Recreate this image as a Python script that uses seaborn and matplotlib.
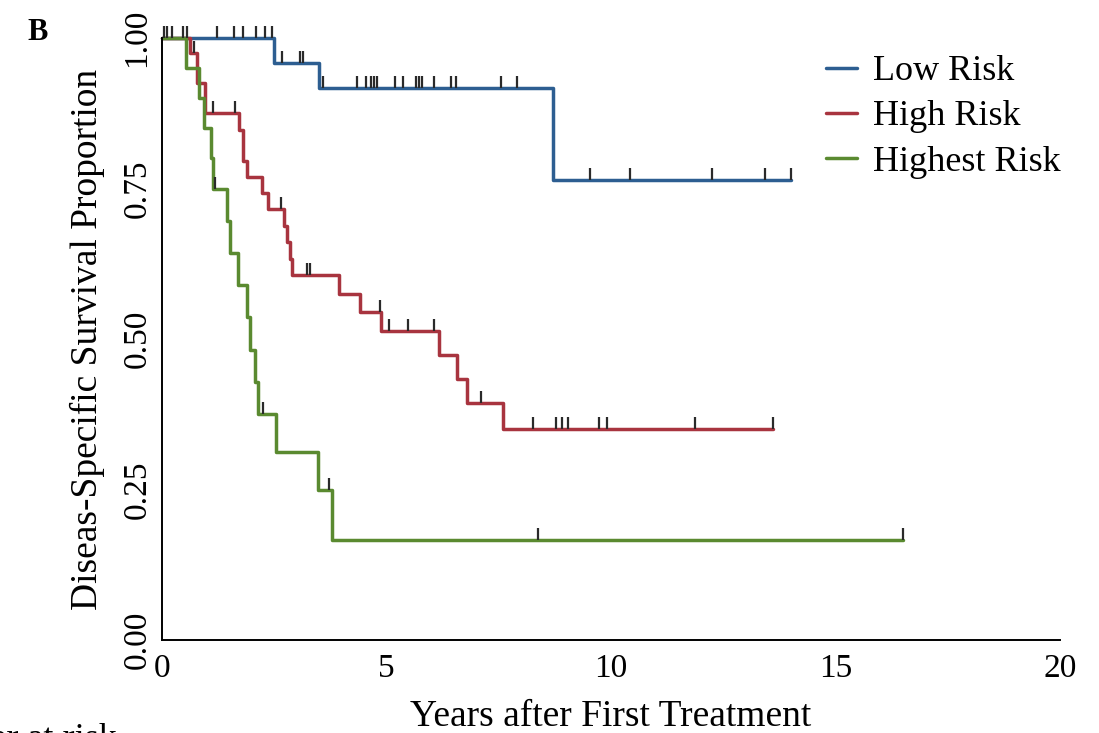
import numpy as np
import pandas as pd
import matplotlib
matplotlib.use("Agg")
import matplotlib.pyplot as plt
import seaborn as sns
from matplotlib.lines import Line2D

# ---------------- data ----------------
groups = ["Low Risk", "High Risk", "Highest Risk"]

low_times = [0, 2.5, 3.5, 8.7, 14.0]
low_surv = [1.0, 0.958, 0.917, 0.764, 0.764]
low_censor = [0.05, 0.12, 0.22, 0.47, 0.55, 1.22, 1.6, 1.8, 2.1, 2.3, 2.45,
              2.67, 3.07, 3.14, 3.58, 4.34, 4.54, 4.65, 4.72, 4.79, 5.2, 5.36,
              5.65, 5.72, 5.8, 6.06, 6.44, 6.55, 7.54, 7.9, 9.53, 10.42,
              12.25, 13.43, 14.0]

high_times = [0, 0.63, 0.77, 0.96, 1.72, 1.8, 1.9, 2.22, 2.37, 2.72, 2.78,
              2.84, 2.89, 3.95, 4.4, 4.88, 6.18, 6.58, 6.8, 7.6, 13.6]
high_surv = [1.0, 0.975, 0.925, 0.875, 0.848, 0.795, 0.769, 0.742, 0.716,
             0.688, 0.661, 0.633, 0.606, 0.575, 0.545, 0.513, 0.473, 0.434,
             0.394, 0.350, 0.350]
high_censor = [0.72, 1.14, 1.63, 2.65, 3.22, 3.3, 4.86, 5.06, 5.47, 6.06, 7.1,
               8.26, 8.77, 8.91, 9.05, 9.73, 9.9, 11.87, 13.6]

highest_times = [0, 0.53, 0.83, 0.94, 1.1, 1.13, 1.45, 1.51, 1.7, 1.89, 1.96,
                 2.07, 2.14, 2.55, 3.48, 3.78, 16.5]
highest_surv = [1.0, 0.95, 0.9, 0.85, 0.80, 0.75, 0.696, 0.643, 0.589, 0.536,
                0.482, 0.429, 0.375, 0.3125, 0.25, 0.1667, 0.1667]
highest_censor = [1.18, 2.26, 3.72, 8.38, 16.5]

x_ticks = [0, 5, 10, 15, 20]
y_ticks = [0.0, 0.25, 0.50, 0.75, 1.00]
y_tick_labels = ["0.00", "0.25", "0.50", "0.75", "1.00"]

colors = {"Low Risk": "#2d5e91", "High Risk": "#a8343f", "Highest Risk": "#5a8a30"}

# ---------------- build frames ----------------
curves = {
    "Low Risk": (low_times, low_surv, low_censor),
    "High Risk": (high_times, high_surv, high_censor),
    "Highest Risk": (highest_times, highest_surv, highest_censor),
}
rows = []
for g in groups:
    t, s, _ = curves[g]
    for ti, si in zip(t, s):
        rows.append({"time": ti, "surv": si, "group": g})
df = pd.DataFrame(rows)


def step_value(times, surv, x):
    idx = np.searchsorted(np.asarray(times), x, side="right") - 1
    return np.asarray(surv)[idx]


# ---------------- plot ----------------
sns.set_style("white")
plt.rcParams["font.family"] = ["Liberation Serif", "DejaVu Serif"]
plt.rcParams["text.color"] = "black"
plt.rcParams["axes.labelcolor"] = "black"
plt.rcParams["xtick.color"] = "black"
plt.rcParams["ytick.color"] = "black"

fig = plt.figure(figsize=(10.99, 7.33), dpi=100)
W, H = 1099, 733
ax = fig.add_axes([162 / W, 1 - 640 / H, (1060 - 162) / W, (640 - 38) / H])

sns.lineplot(data=df, x="time", y="surv", hue="group", hue_order=groups,
             palette=colors, estimator=None, sort=False, units="group",
             drawstyle="steps-post", linewidth=2.5, clip_on=False, ax=ax,
             legend=False)

for g in groups:
    t, s, c = curves[g]
    cy = [step_value(t, s, x) for x in c]
    ax.plot(c, cy, linestyle="none", marker=2, markersize=9,
            markeredgewidth=1.6, color="#2a2a2a", clip_on=False, zorder=5)

ax.set_xlim(0, 20)
ax.set_ylim(0, 1)
ax.set_xticks(x_ticks)
ax.set_xticklabels([str(v) for v in x_ticks])
ax.set_yticks(y_ticks)
ax.set_yticklabels(y_tick_labels, rotation=90, va="center")
ax.tick_params(axis="both", direction="in", length=9, width=1.3,
               labelsize=24, colors="black")
ax.tick_params(axis="x", pad=10)
ax.tick_params(axis="y", pad=7)

for side in ["top", "right"]:
    ax.spines[side].set_visible(False)
for side in ["left", "bottom"]:
    ax.spines[side].set_linewidth(1.4)
    ax.spines[side].set_color("black")

ax.set_xlabel("Years after First Treatment", fontsize=27, labelpad=11,
              color="black")
ax.set_ylabel("Diseas-Specific Survival Proportion", fontsize=27,
              labelpad=12, color="black")

# legend
handles = [Line2D([0], [0], color=colors[g], linewidth=2.5) for g in groups]
leg = fig.legend(handles, groups, loc="upper left",
                 bbox_to_anchor=(826 / W, 1 - 55 / H), frameon=False,
                 fontsize=26, handlelength=0.85, handletextpad=0.45,
                 labelspacing=0.33, borderpad=0, borderaxespad=0,
                 labelcolor="black")

fig.text(27 / W, 1 - 40 / H, "B", fontsize=22, fontweight="bold", ha="left",
         va="baseline", color="black")
fig.text(117 / W, 1 - 748 / H, "Number at risk", fontsize=26, ha="right",
         va="baseline", color="black")

fig.savefig("out.png", dpi=100)
